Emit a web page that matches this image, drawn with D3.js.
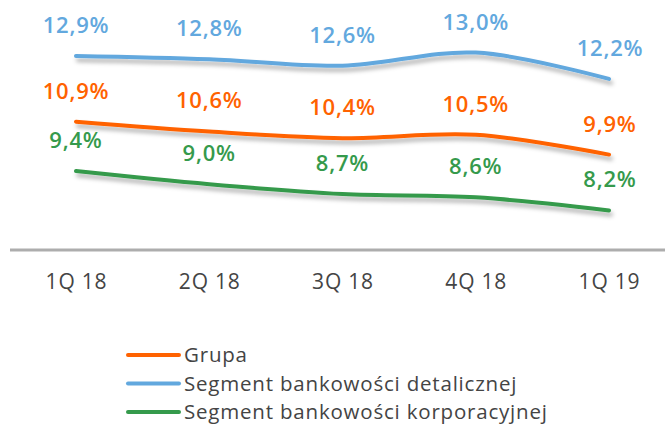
<!DOCTYPE html>
<html>
<head>
<meta charset="utf-8">
<script src="https://cdn.jsdelivr.net/npm/d3@7"></script>
<style>
  body { margin: 0; background: #fff; }
  text { font-family: "Open Sans", sans-serif; }
</style>
</head>
<body>
<div id="chart"></div>
<script>
// categories and series
var quarters = ["1Q 18", "2Q 18", "3Q 18", "4Q 18", "1Q 19"]
var grupa = [10.9, 10.6, 10.4, 10.5, 9.9]
var detaliczna = [12.9, 12.8, 12.6, 13.0, 12.2]
var korporacyjna = [9.4, 9.0, 8.7, 8.6, 8.2]
var seriesNames = ["Grupa", "Segment bankowości detalicznej", "Segment bankowości korporacyjnej"]

var colors = ["#ff6200", "#62a8de", "#359a4c"]
var series = [grupa, detaliczna, korporacyjna]

var width = 665, height = 427

var svg = d3.select("#chart").append("svg")
    .attr("width", width)
    .attr("height", height)

// shadow under the lines
var defs = svg.append("defs")
defs.append("filter")
    .attr("id", "shadow")
    .attr("x", "-10%").attr("y", "-50%")
    .attr("width", "130%").attr("height", "250%")
  .append("feDropShadow")
    .attr("dx", 2).attr("dy", 4)
    .attr("stdDeviation", 2)
    .attr("flood-color", "#000")
    .attr("flood-opacity", 0.3)

var x = d3.scalePoint()
    .domain(quarters)
    .range([76, 609])

var y = d3.scaleLinear()
    .domain([7, 14])
    .range([250, 19.7])

// baseline
svg.append("line")
    .attr("x1", 10).attr("x2", width)
    .attr("y1", y(7)).attr("y2", y(7))
    .attr("stroke", "#adadad")
    .attr("stroke-width", 3)

// x axis labels
var xAxis = svg.append("g")
    .attr("transform", "translate(0," + y(7) + ")")
    .call(d3.axisBottom(x).tickSize(0).tickPadding(24))
xAxis.select(".domain").remove()
xAxis.selectAll("text")
    .style("font-family", "'Open Sans', sans-serif")
    .style("font-size", "21px")
    .style("letter-spacing", "0.8px")
    .attr("fill", "#444")

var line = d3.line()
    .x(function(d, i) { return x(quarters[i]) })
    .y(function(d) { return y(d) })
    .curve(d3.curveCardinal.tension(0))

// draw the series, blue first so the others sit on top
var order = [1, 0, 2]
order.forEach(function(s) {
    svg.append("path")
        .datum(series[s])
        .attr("d", line)
        .attr("fill", "none")
        .attr("stroke", colors[s])
        .attr("stroke-width", 4)
        .attr("stroke-linecap", "round")
        .attr("filter", "url(#shadow)")

    svg.append("g").selectAll("text")
        .data(series[s])
        .join("text")
          .attr("x", function(d, i) { return x(quarters[i]) + (i == 4 ? 1 : 0) })
          .attr("y", function(d) { return y(d) - 31 })
          .attr("dy", "0.36em")
          .attr("text-anchor", "middle")
          .attr("fill", colors[s])
          .style("font-size", "22px")
          .style("font-weight", 600)
          .style("letter-spacing", "0.8px")
          .text(function(d) { return d.toFixed(1).replace(".", ",") + "%" })
})

// legend
var legend = svg.append("g")
    .selectAll("g")
    .data(seriesNames)
    .join("g")
      .attr("transform", function(d, i) { return "translate(0," + (355 + i * 28.5) + ")" })

legend.append("line")
    .attr("x1", 128).attr("x2", 179)
    .attr("stroke", function(d, i) { return colors[i] })
    .attr("stroke-width", 4)
    .attr("stroke-linecap", "round")

legend.append("text")
    .attr("x", 184)
    .attr("dy", "0.36em")
    .attr("fill", "#444")
    .style("font-size", "20.5px")
    .style("letter-spacing", "0.8px")
    .text(function(d) { return d })
</script>
</body>
</html>
